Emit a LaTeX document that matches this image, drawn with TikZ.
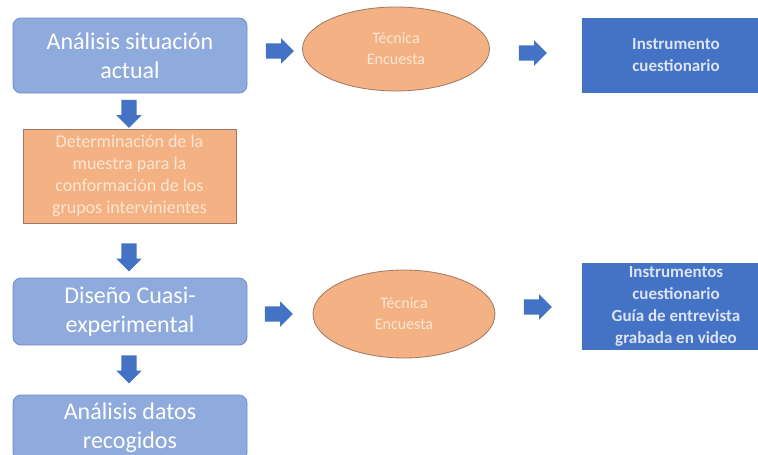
\documentclass[tikz,border=0pt]{standalone}
\usepackage{fontspec}
\setmainfont{Carlito}
\usetikzlibrary{shapes.geometric,shapes.arrows}
\definecolor{cajaazul}{HTML}{8FAADC}
\definecolor{bordeazul}{HTML}{6F8DC6}
\definecolor{naranja}{HTML}{F4B183}
\definecolor{bordenaranja}{HTML}{9C7A66}
\definecolor{azulfuerte}{HTML}{4472C4}
\definecolor{textonaranja}{HTML}{FCE6D4}
\definecolor{textoazul}{HTML}{DCE4F4}
\tikzset{
  boxblue/.style={draw=bordeazul, fill=cajaazul, rounded corners=8pt, line width=0.8pt,
    minimum width=234pt, text=white, align=center, font=\fontsize{24}{29}\selectfont},
  boxorange/.style={draw=bordenaranja, fill=naranja, line width=0.8pt, minimum width=213pt,
    minimum height=94pt, text=textonaranja, align=center, font=\fontsize{18}{22}\selectfont},
  ellip/.style={ellipse, draw=bordenaranja, fill=naranja, line width=0.8pt, inner sep=0pt,
    text=textonaranja, align=center, font=\fontsize{16}{21}\selectfont},
  boxdark/.style={fill=azulfuerte, minimum width=188pt, text=textoazul, align=center,
    font=\fontsize{17}{22}\selectfont\bfseries},
  blockright/.style={single arrow, fill=azulfuerte, minimum height=28pt, minimum width=25pt,
    single arrow head extend=5pt, inner sep=7.5pt},
  blockdown/.style={blockright, shape border rotate=270}
}

\begin{document}
\begin{tikzpicture}[x=1pt,y=-1pt]
  \clip (0,0) rectangle (758,455);

  % columna izquierda
  \node (sit) [boxblue, minimum height=75pt] at (130,55.5) {Análisis situación\\actual};
  \node (mue) [boxorange] at (129.5,176) {Determinación de la\\muestra para la\\conformación de los\\grupos intervinientes};
  \node (dis) [boxblue, minimum height=67pt] at (130,311.5) {Diseño Cuasi-\\experimental};
  \node (dat) [boxblue, minimum height=66pt] at (130,428) {Análisis datos\\recogidos};

  % tecnicas
  \node (enc1) [ellip, minimum width=187pt, minimum height=84pt] at (396,49) {Técnica\\Encuesta};
  \node (enc2) [ellip, minimum width=182pt, minimum height=88pt] at (404,314) {Técnica\\Encuesta};

  % instrumentos
  \node (ins1) [boxdark, minimum height=75pt] at (676,55.5) {Instrumento\\cuestionario};
  \node (ins2) [boxdark, minimum height=87pt] at (676,306.5) {Instrumentos\\cuestionario\\Guía de entrevista\\grabada en video};

  % flechas
  \node (a1) [blockright] at (276,51) {};
  \node (a2) [blockright] at (529,53) {};
  \node (a3) [blockright] at (275,314) {};
  \node (a4) [blockright] at (534,307) {};
  \node (d1) [blockdown] at (129,110) {};
  \node (d2) [blockdown] at (129,253.5) {};
  \node (d3) [blockdown] at (129,365.5) {};
\end{tikzpicture}
\end{document}
